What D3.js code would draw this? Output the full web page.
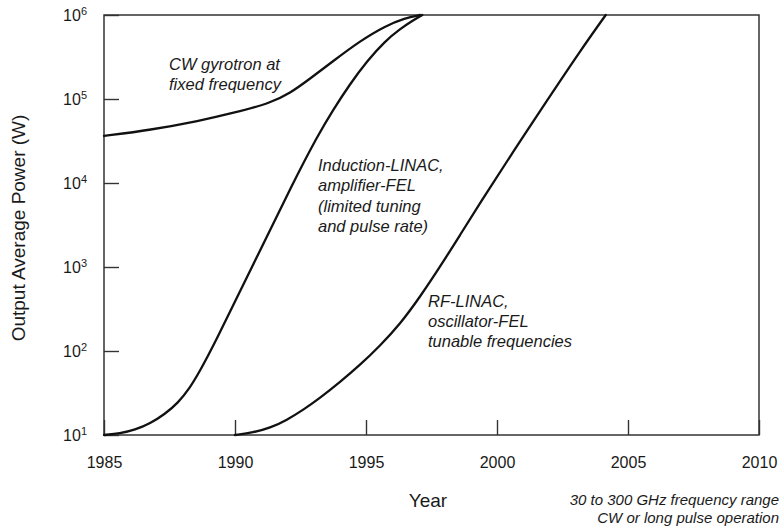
<!DOCTYPE html>
<html>
<head>
<meta charset="utf-8">
<script src="https://cdn.jsdelivr.net/npm/d3@7"></script>
<style>
  html, body { margin: 0; padding: 0; background: #fff; }
  svg { display: block; font-family: "Liberation Sans", Arial, Helvetica, sans-serif; }
</style>
</head>
<body>
<svg id="chart" width="783" height="530"></svg>
<script>
// ---- data ----
const xTickYears = [1985, 1990, 1995, 2000, 2005, 2010];
const yTickValues = [10, 100, 1000, 10000, 100000, 1000000];
const yTickExponents = ["1", "2", "3", "4", "5", "6"];

const cwYears  = [1985, 1986.76, 1988.66, 1989.92, 1991.34, 1992.1, 1992.86, 1993.74, 1994.77, 1995.73, 1996.49, 1997.06];
const cwPower  = [36300, 42700, 55000, 68000, 89000, 117000, 174000, 282000, 490000, 740000, 920000, 1000000];

const indYears = [1985, 1985.61, 1986.18, 1986.76, 1987.33, 1987.82, 1988.28, 1988.66, 1989.16, 1990.65, 1992.21,
                  1993.17, 1993.74, 1994.39, 1995.04, 1995.73, 1996.3, 1996.76, 1997.15];
const indPower = [10, 10.4, 11.5, 13.7, 17.8, 24.0, 36.3, 57.8, 112, 1000, 10000,
                  37300, 74000, 151000, 283000, 490000, 681000, 849000, 1000000];

const rfYears  = [1990, 1990.69, 1991.34, 1991.98, 1992.6, 1993.24, 1994.01, 1994.77, 1995.53, 1996.3, 1997.06,
                  1997.82, 1998.59, 1999.35, 2000.61, 2001.87, 2003.17, 2004.15];
const rfPower  = [10, 10.7, 12.1, 15.1, 19.9, 27.5, 42.7, 68, 115, 209, 440,
                  1000, 2400, 5780, 23400, 92000, 372000, 1000000];

const cwLabel  = ["CW gyrotron at", "fixed frequency"];
const indLabel = ["Induction-LINAC,", "amplifier-FEL", "(limited tuning", "and pulse rate)"];
const rfLabel  = ["RF-LINAC,", "oscillator-FEL", "tunable frequencies"];
const noteLabel = ["30 to 300 GHz frequency range", "CW or long pulse operation"];

// ---- drawing ----
const svg = d3.select("#chart");
const x = d3.scaleLinear().domain([1985, 2010]).range([104, 759]);
const y = d3.scaleLog().domain([10, 1e6]).range([435, 15]);

const ink = "#1a1a1a";

// x axis (ticks point up into the plot)
const xAxis = d3.axisBottom(x).tickValues(xTickYears).tickFormat(d3.format("d"))
  .tickSize(-15).tickPadding(22);
const gx = svg.append("g").attr("transform", `translate(0,${y(10)})`).call(xAxis);
gx.select(".domain").remove();
gx.selectAll(".tick line").attr("stroke", "#333").attr("stroke-width", 1.4);
gx.selectAll(".tick text").attr("font-size", 16).attr("fill", ink)
  .attr("font-family", "'Liberation Sans', Arial, sans-serif");

// y axis (ticks point right into the plot)
const yAxis = d3.axisLeft(y).tickValues(yTickValues).tickFormat(() => "")
  .tickSize(-15).tickPadding(17);
const gy = svg.append("g").attr("transform", `translate(${x(1985)},0)`).call(yAxis);
gy.select(".domain").remove();
gy.selectAll(".tick line").attr("stroke", "#333").attr("stroke-width", 1.4);
gy.selectAll(".tick text").each(function(d, i) {
  const t = d3.select(this).attr("font-size", 16).attr("fill", ink)
    .attr("font-family", "'Liberation Sans', Arial, sans-serif");
  t.text(null);
  t.append("tspan").text("10");
  t.append("tspan").attr("font-size", 11).attr("dy", "-0.55em").text(yTickExponents[i]);
});

// frame
svg.append("rect")
  .attr("x", x(1985)).attr("y", y(1e6))
  .attr("width", x(2010) - x(1985)).attr("height", y(10) - y(1e6))
  .attr("fill", "none").attr("stroke", "#333").attr("stroke-width", 1.5);

// curves
const line = d3.line().x(d => x(d[0])).y(d => y(d[1])).curve(d3.curveBasis);
const series = [
  d3.zip(cwYears, cwPower),
  d3.zip(indYears, indPower),
  d3.zip(rfYears, rfPower)
];
svg.append("g").selectAll("path").data(series).join("path")
  .attr("d", line).attr("fill", "none").attr("stroke", "#111")
  .attr("stroke-width", 2.3).attr("stroke-linecap", "round");

// annotation helper
function block(lines, xPos, baselines, size, anchor) {
  const t = svg.append("text").attr("font-size", size).attr("font-style", "italic")
    .attr("fill", ink).attr("text-anchor", anchor || "start");
  lines.forEach((s, i) => t.append("tspan").attr("x", xPos).attr("y", baselines[i]).text(s));
}
block(cwLabel, 169, [70, 90], 16.5);
block(indLabel, 318, [171, 191, 211.5, 232], 16.5);
block(rfLabel, 428, [307, 327, 347], 16.5);
block(noteLabel, 779, [505, 523], 15, "end");

// axis titles
svg.append("text").attr("x", 428).attr("y", 507).attr("text-anchor", "middle")
  .attr("font-size", 19).attr("fill", ink).text("Year");
svg.append("text").attr("transform", "translate(25,228) rotate(-90)")
  .attr("text-anchor", "middle").attr("font-size", 19).attr("fill", ink)
  .text("Output Average Power (W)");
</script>
</body>
</html>
